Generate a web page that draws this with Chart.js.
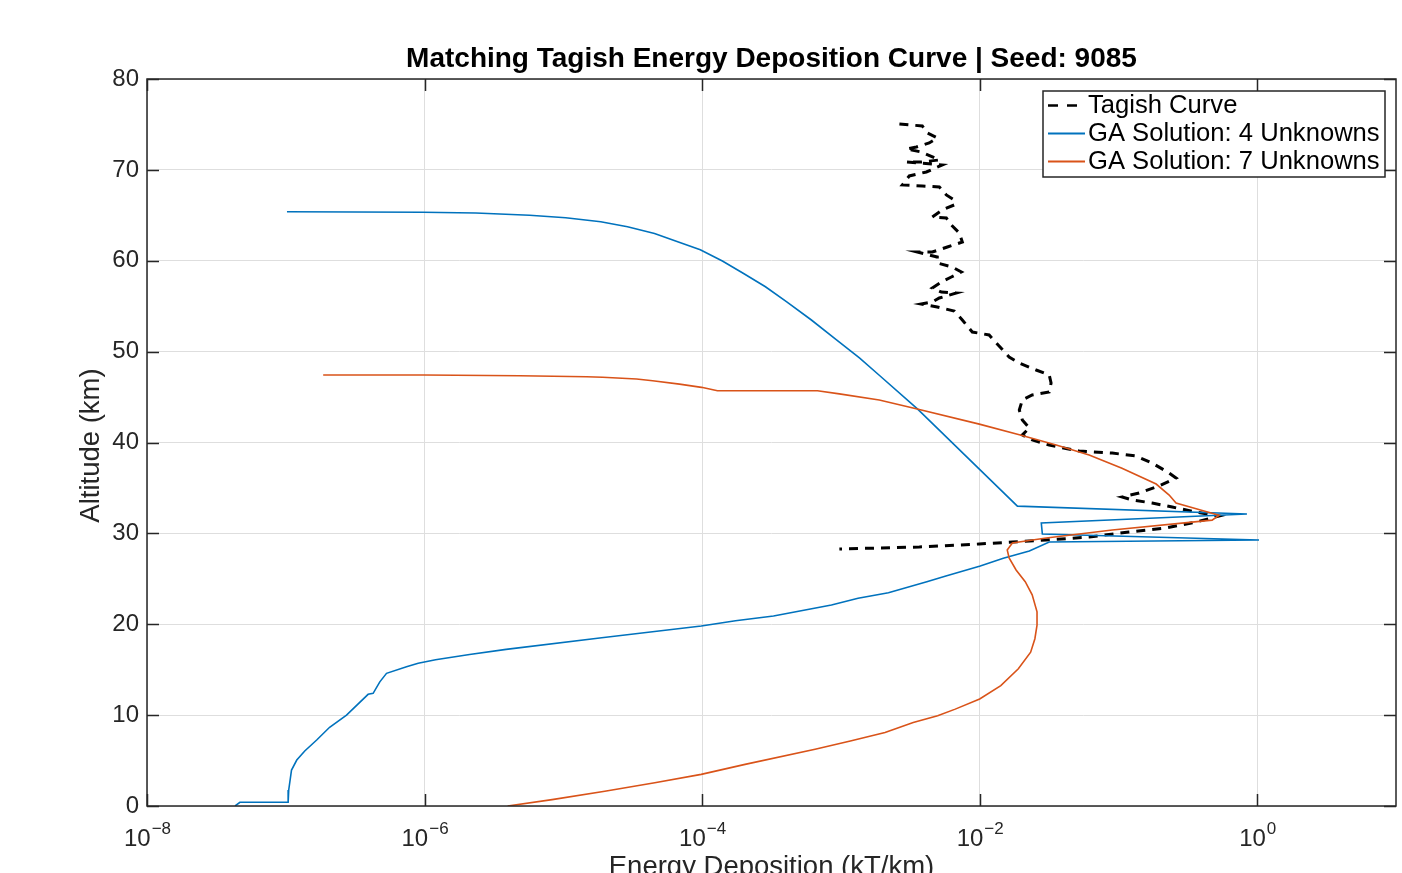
<!DOCTYPE html>
<html>
<head>
<meta charset="utf-8">
<script src="https://cdn.jsdelivr.net/npm/chart.js@4.4.1/dist/chart.umd.min.js"></script>
<style>
  html, body { margin: 0; padding: 0; background: #fff; overflow: hidden; }
</style>
</head>
<body>
<canvas id="chart" width="1402" height="873"></canvas>
<script>
// values
const TITLE = 'Matching Tagish Energy Deposition Curve | Seed: 9085';
const X_TITLE = 'Energy Deposition (kT/km)';
const Y_TITLE = 'Altitude (km)';
const X_TICKS = [1e-8, 1e-6, 1e-4, 1e-2, 1];
const X_TICK_EXP = ['-8', '-6', '-4', '-2', '0'];

const labels = ['Tagish Curve', 'GA Solution: 4 Unknowns', 'GA Solution: 7 Unknowns'];

const tagishX = [2.64e-3, 3.86e-3, 4.2e-3, 4.95e-3, 4.33e-3, 3.5e-3, 2.97e-3, 3.8e-3, 5.12e-3, 3.8e-3,
  2.97e-3, 5.38e-3, 4.13e-3, 3.11e-3, 2.77e-3, 3.86e-3, 5.12e-3, 5.75e-3, 6.56e-3, 6.56e-3,
  5.38e-3, 4.56e-3, 5.75e-3, 6.25e-3, 7.13e-3, 7.5e-3, 5.85e-3, 4.56e-3, 3.56e-3, 4.95e-3,
  4.95e-3, 6.35e-3, 7.38e-3, 6.25e-3, 5.3e-3, 4.56e-3, 5.3e-3, 6.8e-3, 5.12e-3, 4.56e-3,
  3.8e-3, 4.95e-3, 6.56e-3, 7.5e-3, 8.85e-3, 0.0117, 0.0132, 0.0163, 0.0193, 0.0255,
  0.0317, 0.0327, 0.0317, 0.0239, 0.0203, 0.0193, 0.0203, 0.0228, 0.0203, 0.0239,
  0.0317, 0.0521, 0.0902, 0.134, 0.175, 0.232, 0.26, 0.196, 0.141, 0.106,
  0.126, 0.175, 0.244, 0.362, 0.531, 0.362, 0.22, 0.119, 0.0615, 0.0301,
  0.0172, 9.93e-3, 3.67e-3, 9.75e-4];
const tagishY = [75.05, 74.83, 74.06, 73.51, 72.96, 72.52, 72.3, 71.97, 71.09, 70.87,
  70.87, 70.54, 69.77, 69.33, 68.34, 68.23, 68.12, 67.24, 66.69, 66.14,
  65.59, 64.82, 64.71, 63.94, 63.06, 62.06, 61.51, 60.96, 60.96, 60.41,
  59.75, 59.31, 58.76, 58.21, 57.66, 57.0, 56.56, 56.45, 55.9, 55.46,
  55.24, 54.91, 54.47, 53.48, 52.16, 51.83, 50.95, 49.41, 48.75, 47.98,
  47.43, 46.55, 45.56, 45.23, 44.68, 43.58, 42.48, 41.6, 40.83, 40.28,
  39.72, 39.06, 38.84, 38.51, 37.74, 36.64, 36.09, 35.21, 34.44, 34.0,
  33.67, 33.34, 32.9, 32.35, 31.91, 31.25, 30.59, 30.15, 29.6, 29.27,
  29.05, 28.83, 28.5, 28.28];

const ga4X = [1.02e-7, 9.7e-7, 2.34e-6, 5.71e-6, 1.04e-5, 1.86e-5, 2.9e-5, 4.54e-5, 6.44e-5, 9.7e-5,
  1.4e-4, 1.99e-4, 2.86e-4, 4.05e-4, 6.13e-4, 9.3e-4, 1.36e-3, 1.89e-3, 3.56e-3, 0.0187,
  0.843, 0.0278, 0.0283, 1.03, 0.0317, 0.0228, 0.0148, 0.0101, 5.71e-3, 4.16e-3,
  2.2e-3, 1.33e-3, 8.55e-4, 3.27e-4, 1.74e-4, 9.86e-5, 1.89e-5, 3.87e-6, 2.11e-6, 1.2e-6,
  9.0e-7, 7.41e-7, 5.32e-7, 4.76e-7, 4.26e-7, 3.92e-7, 2.74e-7, 2.07e-7, 1.67e-7, 1.37e-7,
  1.2e-7, 1.1e-7, 1.05e-7, 1.04e-7, 4.67e-8, 4.31e-8];
const ga4Y = [65.4, 65.34, 65.25, 65.0, 64.74, 64.3, 63.75, 63.0, 62.17, 61.2,
  59.97, 58.6, 57.14, 55.5, 53.48, 51.3, 49.3, 47.4, 43.7, 33.0,
  32.13, 31.14, 29.93, 29.27, 29.05, 28.06, 27.26, 26.41, 25.31, 24.68,
  23.47, 22.86, 22.12, 20.91, 20.39, 19.81, 18.52, 17.24, 16.67, 16.1,
  15.7, 15.33, 14.6, 13.66, 12.4, 12.29, 10.01, 8.66, 7.26, 6.05,
  5.06, 3.96, 1.76, 0.41, 0.41, 0.0];

const ga7X = [1.86e-7, 9.86e-7, 4.84e-6, 1.47e-5, 1.92e-5, 3.37e-5, 4.4e-5, 6.87e-5, 9.9e-5, 1.29e-4,
  6.78e-4, 9.75e-4, 1.89e-3, 3.55e-3, 9.94e-3, 0.0193, 0.0356, 0.0615, 0.106, 0.187,
  0.232, 0.26, 0.531, 0.473, 0.0902, 0.0302, 0.0172, 0.0158, 0.0163, 0.0183,
  0.0213, 0.0239, 0.0259, 0.0259, 0.025, 0.0233, 0.019, 0.0142, 0.01, 6.67e-3,
  4.98e-3, 3.32e-3, 2.08e-3, 1.17e-3, 6.52e-4, 2.04e-4, 9.85e-5, 4.56e-5, 1.99e-5, 8.3e-6,
  3.97e-6];
const ga7Y = [47.43, 47.43, 47.35, 47.24, 47.18, 46.99, 46.8, 46.42, 46.07, 45.7,
  45.7, 45.35, 44.68, 43.69, 42.02, 40.85, 39.73, 38.63, 37.17, 35.43,
  34.22, 33.34, 32.0, 31.46, 30.37, 29.49, 28.94, 28.17, 27.29, 25.97,
  24.68, 23.23, 21.37, 19.89, 18.41, 16.93, 15.1, 13.25, 11.77, 10.66,
  9.93, 9.19, 8.09, 7.16, 6.24, 4.58, 3.48, 2.55, 1.63, 0.7,
  0.0];

const FONT = '"Liberation Sans", Arial, Helvetica, sans-serif';
const AXIS_COLOR = '#262626';

function toPoints(xs, ys) {
  return xs.map((x, i) => ({x: x, y: ys[i]}));
}

// title, axis titles, x tick labels, box, inward ticks and legend
const decorPlugin = {
  id: 'decor',
  afterDatasetsDraw(chart) {
    const ctx = chart.ctx;
    const area = chart.chartArea;
    const xs = chart.scales.x;
    const ys = chart.scales.y;
    ctx.save();
    ctx.strokeStyle = AXIS_COLOR;
    ctx.lineWidth = 1.5;
    ctx.strokeRect(area.left, area.top, area.right - area.left, area.bottom - area.top);
    ctx.beginPath();
    X_TICKS.forEach((v) => {
      const px = Math.round(xs.getPixelForValue(v)) + 0.5;
      ctx.moveTo(px, area.bottom);
      ctx.lineTo(px, area.bottom - 12);
      ctx.moveTo(px, area.top);
      ctx.lineTo(px, area.top + 12);
    });
    ys.ticks.forEach((t) => {
      const py = Math.round(ys.getPixelForValue(t.value)) + 0.5;
      ctx.moveTo(area.left, py);
      ctx.lineTo(area.left + 12, py);
      ctx.moveTo(area.right, py);
      ctx.lineTo(area.right - 12, py);
    });
    ctx.stroke();
    ctx.restore();
  },
  afterDraw(chart) {
    const ctx = chart.ctx;
    const area = chart.chartArea;
    const xs = chart.scales.x;
    ctx.save();
    ctx.fillStyle = '#000';
    ctx.textAlign = 'center';
    ctx.textBaseline = 'alphabetic';
    ctx.font = 'bold 28px ' + FONT;
    ctx.fillText(TITLE, (area.left + area.right) / 2, 67);

    ctx.fillStyle = AXIS_COLOR;
    ctx.font = '27.5px ' + FONT;
    ctx.fillText(X_TITLE, (area.left + area.right) / 2, 875);
    ctx.save();
    ctx.translate(99, (area.top + area.bottom) / 2 + 3);
    ctx.rotate(-Math.PI / 2);
    ctx.fillText(Y_TITLE, 0, 0);
    ctx.restore();

    // x tick labels as 10 with raised exponent
    X_TICKS.forEach((v, i) => {
      const px = xs.getPixelForValue(v);
      const exp = X_TICK_EXP[i].replace('-', '\u2212');
      ctx.font = '24px ' + FONT;
      const wBase = ctx.measureText('10').width;
      ctx.font = '17px ' + FONT;
      const wExp = ctx.measureText(exp).width;
      const left = px - (wBase + wExp) / 2;
      ctx.textAlign = 'left';
      ctx.font = '24px ' + FONT;
      ctx.fillText('10', left, 846);
      ctx.font = '17px ' + FONT;
      ctx.fillText(exp, left + wBase + 1, 834);
    });

    // legend box
    const bx = 1043, by = 91, bw = 342, bh = 86;
    ctx.fillStyle = '#fff';
    ctx.fillRect(bx, by, bw, bh);
    ctx.strokeStyle = AXIS_COLOR;
    ctx.lineWidth = 1.5;
    ctx.strokeRect(bx, by, bw, bh);
    const rows = [105, 133, 161];
    chart.data.datasets.forEach((ds, i) => {
      ctx.beginPath();
      ctx.strokeStyle = ds.borderColor;
      ctx.lineWidth = i === 0 ? 2.5 : 2;
      ctx.setLineDash(i === 0 ? [10, 9] : []);
      ctx.moveTo(1048, rows[i] + 0.5);
      ctx.lineTo(1085, rows[i] + 0.5);
      ctx.stroke();
      ctx.setLineDash([]);
      ctx.fillStyle = '#000';
      ctx.textAlign = 'left';
      ctx.textBaseline = 'middle';
      ctx.font = '25.6px ' + FONT;
      ctx.fillText(ds.label, 1088, rows[i] + 1);
    });
    ctx.restore();
  }
};

const ctx = document.getElementById('chart');

const config = {
  type: 'scatter',
  data: {
    datasets: [{
      label: labels[0],
      data: toPoints(tagishX, tagishY),
      borderColor: '#000000',
      borderWidth: 3,
      borderDash: [9, 7],
      showLine: true,
      pointRadius: 0,
      fill: false,
      order: 2,
    }, {
      label: labels[1],
      data: toPoints(ga4X, ga4Y),
      borderColor: '#0072BD',
      borderWidth: 1.6,
      showLine: true,
      pointRadius: 0,
      fill: false,
      order: 1,
    }, {
      label: labels[2],
      data: toPoints(ga7X, ga7Y),
      borderColor: '#D95319',
      borderWidth: 1.6,
      showLine: true,
      pointRadius: 0,
      fill: false,
      order: 0,
    }]
  },
  options: {
    responsive: false,
    animation: false,
    devicePixelRatio: 1,
    layout: {padding: {top: 79, right: 6, left: 0, bottom: 0}},
    plugins: {
      legend: {display: false},
      title: {display: false},
      tooltip: {enabled: false},
    },
    elements: {line: {tension: 0}},
    scales: {
      x: {
        type: 'logarithmic',
        min: 1e-8,
        max: 10,
        afterBuildTicks: (scale) => {
          scale.ticks = X_TICKS.map((v) => ({value: v}));
        },
        afterFit: (scale) => { scale.height = 67; },
        ticks: {display: false},
        border: {display: false},
        grid: {color: '#dedede', lineWidth: 1, drawTicks: false},
      },
      y: {
        type: 'linear',
        min: 0,
        max: 80,
        ticks: {
          stepSize: 10,
          padding: 8,
          color: AXIS_COLOR,
          font: {family: FONT, size: 24},
        },
        afterFit: (scale) => { scale.width = 147; },
        border: {display: false},
        grid: {color: '#dedede', lineWidth: 1, drawTicks: false},
      }
    }
  },
  plugins: [decorPlugin]
};

const chart = new Chart(ctx, config);
</script>
</body>
</html>
